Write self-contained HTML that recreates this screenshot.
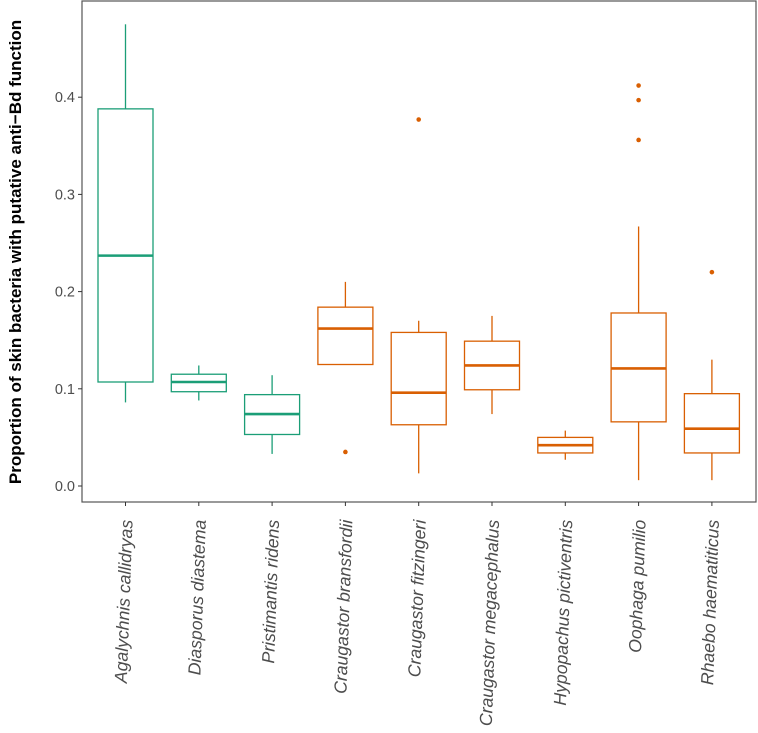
<!DOCTYPE html>
<html><head><meta charset="utf-8"><style>
body{margin:0;background:#fff;}
svg{display:block;font-family:"Liberation Sans",sans-serif;}
</style></head><body>
<svg id="chart" width="758" height="733">
<rect x="82" y="1" width="674" height="501" fill="#fff" stroke="#555" stroke-width="1.2"/>
<g id="yaxis"></g>
<g id="boxes"></g>
<g id="xaxis"></g>
<text x="0" y="0" transform="translate(21,252) rotate(-90)" text-anchor="middle" font-size="17" font-weight="bold" fill="#000">Proportion of skin bacteria with putative anti−Bd function</text>
</svg>
<script>
const categories=["Agalychnis callidryas","Diasporus diastema","Pristimantis ridens","Craugastor bransfordii","Craugastor fitzingeri","Craugastor megacephalus","Hypopachus pictiventris","Oophaga pumilio","Rhaebo haematiticus"];
const groups=["g","g","g","o","o","o","o","o","o"];
const whiskerLow=[0.086,0.088,0.033,0.125,0.013,0.074,0.027,0.006,0.006];
const q1=[0.107,0.097,0.053,0.125,0.063,0.099,0.034,0.066,0.034];
const medians=[0.237,0.107,0.074,0.162,0.096,0.124,0.042,0.121,0.059];
const q3=[0.388,0.115,0.094,0.184,0.158,0.149,0.050,0.178,0.095];
const whiskerHigh=[0.475,0.124,0.114,0.210,0.170,0.175,0.057,0.267,0.130];
const outliers=[[],[],[],[0.035],[0.377],[],[],[0.412,0.397,0.356],[0.220]];
const yTicks=[0.0,0.1,0.2,0.3,0.4];
const yTickLabels=["0.0","0.1","0.2","0.3","0.4"];

const NS="http://www.w3.org/2000/svg";
const y=v=>486-v*972;
const x=i=>125.5+i*73.3;
const hw=27.5;
const col={g:"#1b9e77",o:"#d95f02"};
function mk(tag,attrs,parent){const e=document.createElementNS(NS,tag);for(const k in attrs)e.setAttribute(k,attrs[k]);parent.appendChild(e);return e;}
const ya=document.getElementById('yaxis');
yTicks.forEach((t,i)=>{
  const l=mk('line',{x1:78,x2:82,y1:y(t),y2:y(t),stroke:'#333','stroke-width':1},ya);
  
  
  const tx=mk('text',{x:75,y:y(t)+5,'text-anchor':'end','font-size':14.5,fill:'#4d4d4d'},ya);
  tx.textContent=yTickLabels[i];
  
  
});
const bx=document.getElementById('boxes');
const xa=document.getElementById('xaxis');
categories.forEach((c,i)=>{
  const cx=x(i),cl=col[groups[i]];
  const g=mk('g',{},bx);
  
  
  mk('line',{x1:cx,x2:cx,y1:y(whiskerHigh[i]),y2:y(q3[i]),stroke:cl,'stroke-width':1.3},g);
  mk('line',{x1:cx,x2:cx,y1:y(q1[i]),y2:y(whiskerLow[i]),stroke:cl,'stroke-width':1.3},g);
  mk('rect',{x:cx-hw,y:y(q3[i]),width:hw*2,height:y(q1[i])-y(q3[i]),fill:'none',stroke:cl,'stroke-width':1.3},g);
  mk('line',{x1:cx-hw,x2:cx+hw,y1:y(medians[i]),y2:y(medians[i]),stroke:cl,'stroke-width':2.6},g);
  outliers[i].forEach(o=>{
    const p=mk('circle',{cx:cx,cy:y(o),r:2.3,fill:cl},g);
    
    
  });
  const t=mk('line',{x1:cx,x2:cx,y1:502,y2:506,stroke:'#333','stroke-width':1},xa);
  
  
  const tx=mk('text',{x:0,y:0,transform:`translate(${cx+7},520) rotate(-88)`,'text-anchor':'end','font-size':17.6,'font-style':'italic',fill:'#4d4d4d'},xa);
  tx.textContent=c;
  
  
});
</script>
</body></html>
